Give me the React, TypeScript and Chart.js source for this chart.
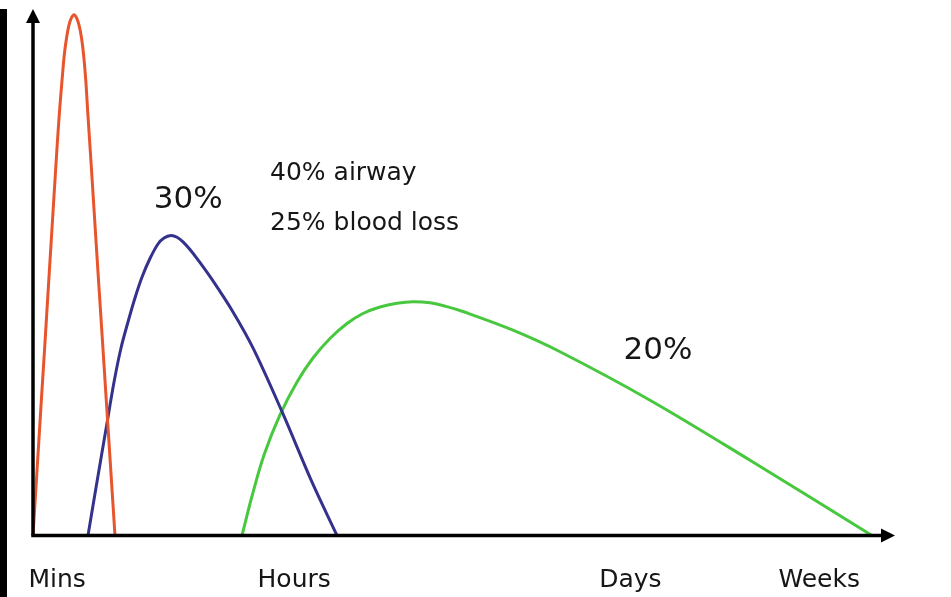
import React, { useEffect, useRef } from "react";
import { Chart, registerables } from "chart.js";

Chart.register(...registerables);

// Time axis (0..100 abstract units) and relative frequency (0..100)
const tickValues = [2.8, 30.3, 69.3, 91.2];
const tickLabels = ["Mins", "Hours", "Days", "Weeks"];

const redX = [0, 0.49, 0.97, 1.43, 1.87, 2.32, 2.75, 3.07, 3.36, 3.63, 3.89, 4.15, 4.43, 4.76, 5.08, 5.36, 5.63, 5.87, 6.13, 6.35, 6.66, 7.1, 7.56, 8.03, 8.5, 9.0, 9.51];
const redY = [0, 13.0, 25.7, 37.7, 49.5, 61.4, 72.7, 80.4, 86.3, 91.3, 94.5, 96.8, 98.2, 98.9, 98.2, 96.8, 94.5, 91.3, 86.3, 80.4, 72.7, 61.4, 49.5, 37.7, 25.7, 13.0, 0];

const blueX = [6.38, 7.42, 8.47, 9.4, 10.21, 11.02, 11.83, 12.65, 13.57, 14.5, 15.2, 16.01, 16.71, 17.4, 18.21, 19.14, 20.88, 23.2, 25.52, 28.89, 32.37, 35.27];
const blueY = [0, 10.16, 20.23, 29.15, 35.61, 40.55, 45.11, 49.1, 52.61, 55.37, 56.51, 56.98, 56.64, 55.78, 54.32, 52.35, 48.36, 42.47, 35.63, 23.51, 10.12, 0];

const greenX = [24.25, 25.41, 26.8, 28.65, 30.63, 32.48, 34.45, 36.43, 38.28, 40.26, 42.23, 44.08, 46.06, 47.91, 49.88, 55.68, 61.14, 71.58, 83.18, 97.33];
const greenY = [0, 7.5, 15.29, 22.89, 29.15, 33.71, 37.42, 40.27, 42.17, 43.4, 44.1, 44.39, 44.19, 43.52, 42.54, 39.0, 34.9, 25.7, 14.3, 0];

const noteTexts = ["30%", "40% airway", "25% blood loss", "20%"];
const noteX = [18.0, 27.5, 27.5, 72.5];
const noteY = [63.7, 68.7, 59.2, 35.0];

const toPoints = (xs: number[], ys: number[]) => xs.map((x, i) => ({ x, y: ys[i] }));

const decorPlugin = {
  id: "decor",
  beforeDraw(chart: any) {
    const ctx = chart.ctx;
    ctx.save();
    ctx.fillStyle = "#ffffff";
    ctx.fillRect(0, 0, chart.width, chart.height);
    ctx.fillStyle = "#000000";
    ctx.fillRect(0, 9, 7, chart.height - 9);
    ctx.restore();
  },
  afterDatasetsDraw(chart: any) {
    const ctx = chart.ctx;
    const { left, right, top, bottom } = chart.chartArea;
    ctx.save();
    ctx.strokeStyle = "#000";
    ctx.fillStyle = "#000";
    ctx.lineWidth = 3.5;
    // x axis
    ctx.beginPath();
    ctx.moveTo(left - 1.75, bottom);
    ctx.lineTo(right - 8, bottom);
    ctx.stroke();
    ctx.beginPath();
    ctx.moveTo(right, bottom);
    ctx.lineTo(right - 14, bottom - 7);
    ctx.lineTo(right - 14, bottom + 7);
    ctx.closePath();
    ctx.fill();
    // y axis
    ctx.beginPath();
    ctx.moveTo(left, bottom);
    ctx.lineTo(left, top + 8);
    ctx.stroke();
    ctx.beginPath();
    ctx.moveTo(left, top);
    ctx.lineTo(left - 7, top + 14);
    ctx.lineTo(left + 7, top + 14);
    ctx.closePath();
    ctx.fill();

    // annotations
    const xs = chart.scales.x;
    const ys = chart.scales.y;
    ctx.fillStyle = "#161616";
    ctx.textBaseline = "middle";
    noteTexts.forEach((t, i) => {
      const big = t.length <= 3;
      ctx.font = (big ? "31px" : "25px") + " 'DejaVu Sans'";
      ctx.textAlign = big ? "center" : "left";
      ctx.fillText(t, xs.getPixelForValue(noteX[i]), ys.getPixelForValue(noteY[i]));
    });
    ctx.restore();
  },
};

export default function App() {
  const ref = useRef<HTMLCanvasElement | null>(null);
  useEffect(() => {
    if (!ref.current) return;
    const line = { pointRadius: 0, borderWidth: 3, tension: 0.35, fill: false };
    const chart = new Chart(ref.current, {
      type: "line",
      data: {
        datasets: [
          { ...line, label: "Immediate", data: toPoints(redX, redY), borderColor: "rgb(232,84,44)" },
          { ...line, label: "Early", data: toPoints(blueX, blueY), borderColor: "rgb(52,50,140)" },
          { ...line, label: "Late", data: toPoints(greenX, greenY), borderColor: "rgb(72,200,62)" },
        ],
      },
      options: {
        responsive: false,
        animation: false,
        layout: { padding: { left: 33, right: 56, top: 9, bottom: 0 } },
        plugins: { legend: { display: false }, tooltip: { enabled: false } },
        scales: {
          x: {
            type: "linear",
            min: 0,
            max: 100,
            grid: { display: false, drawTicks: false },
            border: { display: false },
            afterBuildTicks: (axis: any) => {
              axis.ticks = tickValues.map((v) => ({ value: v }));
            },
            afterFit: (axis: any) => {
              axis.height = 61.5;
              axis.paddingLeft = 0;
              axis.paddingRight = 0;
            },
            ticks: {
              autoSkip: false,
              maxRotation: 0,
              padding: 30,
              color: "#161616",
              font: { family: "'DejaVu Sans'", size: 25 },
              callback: (_v: any, i: number) => tickLabels[i],
            },
          },
          y: { display: false, min: 0, max: 100 },
        },
      },
      plugins: [decorPlugin],
    });
    return () => chart.destroy();
  }, []);
  return (
    <div style={{ position: "absolute", left: 0, top: 0, width: 951, height: 597 }}>
      <canvas ref={ref} width={951} height={597} />
    </div>
  );
}
